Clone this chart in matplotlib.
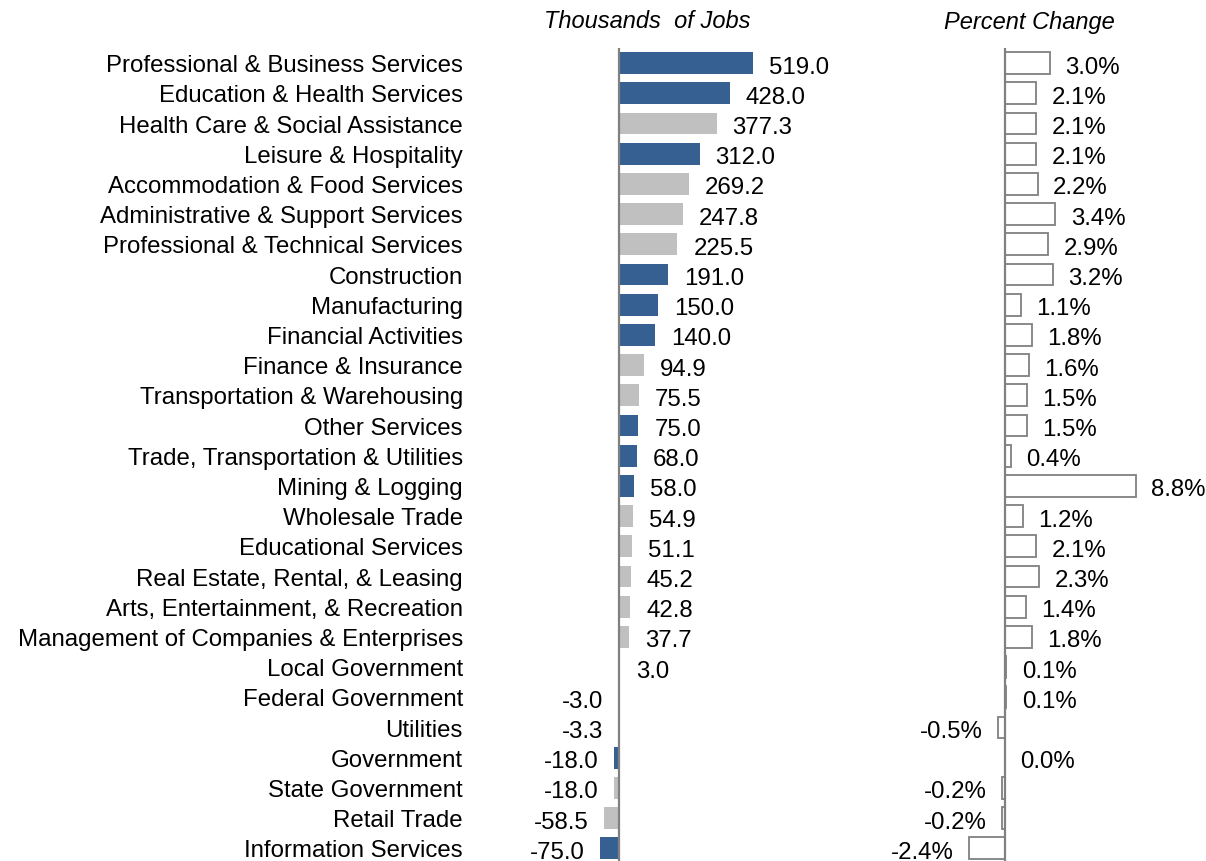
import matplotlib
matplotlib.use("Agg")
import matplotlib.pyplot as plt
import matplotlib.transforms as mtransforms
import numpy as np

plt.rcParams['font.family'] = ['Liberation Sans', 'DejaVu Sans']

# Data
industries = [
    "Professional & Business Services", "Education & Health Services",
    "Health Care & Social Assistance", "Leisure & Hospitality",
    "Accommodation & Food Services", "Administrative & Support Services",
    "Professional & Technical Services", "Construction", "Manufacturing",
    "Financial Activities", "Finance & Insurance", "Transportation & Warehousing",
    "Other Services", "Trade, Transportation & Utilities", "Mining & Logging",
    "Wholesale Trade", "Educational Services", "Real Estate, Rental, & Leasing",
    "Arts, Entertainment, & Recreation", "Management of Companies & Enterprises",
    "Local Government", "Federal Government", "Utilities", "Government",
    "State Government", "Retail Trade", "Information Services",
]
jobs_k = [519.0, 428.0, 377.3, 312.0, 269.2, 247.8, 225.5, 191.0, 150.0, 140.0,
          94.9, 75.5, 75.0, 68.0, 58.0, 54.9, 51.1, 45.2, 42.8, 37.7,
          3.0, -3.0, -3.3, -18.0, -18.0, -58.5, -75.0]
pct_change = [3.0, 2.1, 2.1, 2.1, 2.2, 3.4, 2.9, 3.2, 1.1, 1.8,
              1.6, 1.5, 1.5, 0.4, 8.8, 1.2, 2.1, 2.3, 1.4, 1.8,
              0.1, 0.1, -0.5, 0.0, -0.2, -0.2, -2.4]
# True = supersector (blue), False = sub-sector (gray)
supersector = [True, True, False, True, False, False, False, True, True, True,
               False, False, True, True, True, False, False, False, False, False,
               False, False, False, True, False, False, True]

BLUE = '#366092'
GRAY = '#c0c0c0'
LINE = '#808080'
FS = 17.3

W, H = 1206, 862
fig = plt.figure(figsize=(W / 100, H / 100), dpi=100)

y = np.arange(len(industries))
colors = [BLUE if s else GRAY for s in supersector]

# axes placed in pixel terms: zero line x, px per unit
def make_axes(x0, x1, zero_px, px_per_unit):
    ax = fig.add_axes([x0 / W, 0, (x1 - x0) / W, 1 - 49 / H])
    ax.set_xlim(-(zero_px - x0) / px_per_unit, (x1 - zero_px) / px_per_unit)
    ax.set_ylim(26.42, -0.5)
    ax.axis('off')
    ax.axvline(0, color=LINE, lw=1.6, zorder=3)
    return ax

ax1 = make_axes(540, 880, 619, 0.2585)
ax1.barh(y, jobs_k, height=0.72, color=colors, zorder=2)
for yi, v in zip(y, jobs_k):
    ax1.annotate(f"{v:.1f}", (v, yi), xytext=(11.5 if v >= 0 else -11, -2.5),
                 textcoords='offset points', ha='left' if v >= 0 else 'right',
                 va='center', fontsize=FS)

ax2 = make_axes(890, 1206, 1005, 14.85)
ax2.barh(y, pct_change, height=0.72, facecolor='white', edgecolor=LINE,
         linewidth=1.3, zorder=2)
for yi, v in zip(y, pct_change):
    ax2.annotate(f"{v:.1f}%", (v, yi), xytext=(11 if v >= 0 else -11, -2.5),
                 textcoords='offset points', ha='left' if v >= 0 else 'right',
                 va='center', fontsize=FS)

# category labels, right aligned
trans = mtransforms.blended_transform_factory(fig.transFigure, ax1.transData)
for yi, name in zip(y, industries):
    ax1.annotate(name, (463 / W, yi), xycoords=trans, xytext=(0, -1.5),
                 textcoords='offset points', ha='right', va='center',
                 fontsize=FS, annotation_clip=False)

fig.text(647 / W, 1 - 22 / H, "Thousands  of Jobs", ha='center', va='center',
         fontsize=17, style='italic')
fig.text(1029 / W, 1 - 22 / H, "Percent Change", ha='center', va='center',
         fontsize=17, style='italic')

fig.savefig("out.png", dpi=100)
